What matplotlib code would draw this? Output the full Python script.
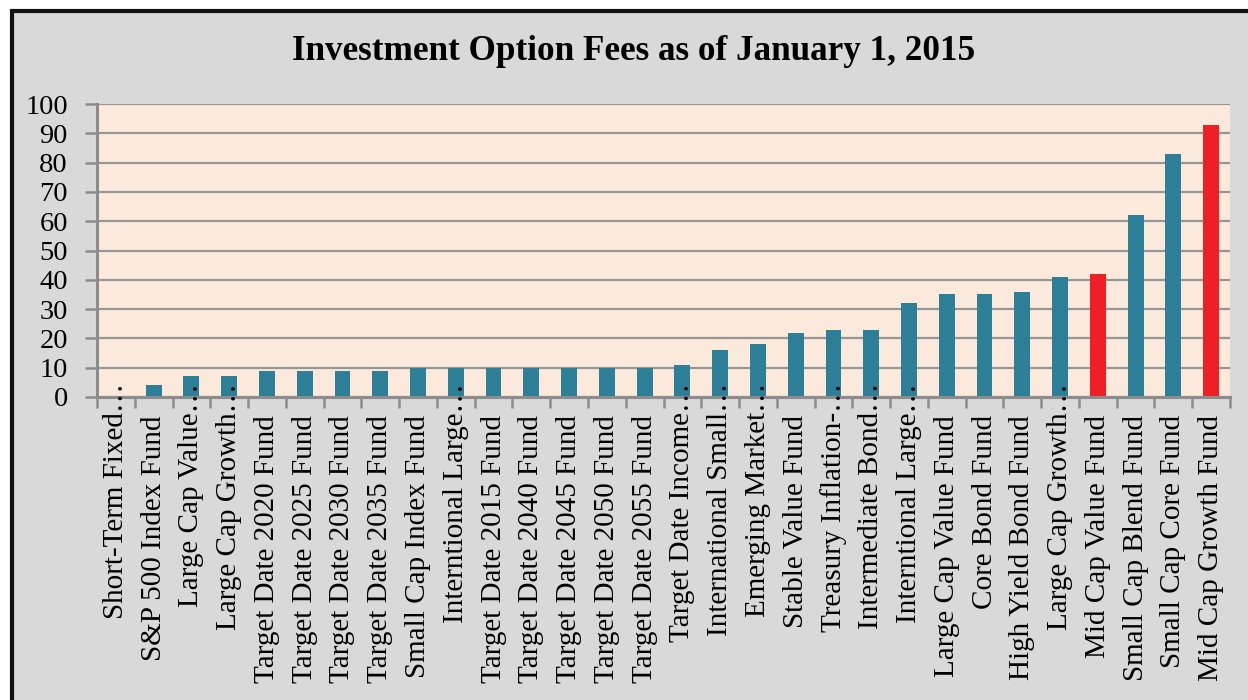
import matplotlib
matplotlib.use("Agg")
import matplotlib.pyplot as plt
from matplotlib.patches import Rectangle

plt.rcParams['font.family'] = ['Liberation Serif', 'DejaVu Serif']

# Fund names as shown on the axis (Excel truncated the long ones)
funds = [
    "Short-Term Fixed…", "S&P 500 Index Fund", "Large Cap Value…",
    "Large Cap Growth…", "Target Date 2020 Fund", "Target Date 2025 Fund",
    "Target Date 2030 Fund", "Target Date 2035 Fund", "Small Cap Index Fund",
    "Interntional Large…", "Target Date 2015 Fund", "Target Date 2040 Fund",
    "Target Date 2045 Fund", "Target Date 2050 Fund", "Target Date 2055 Fund",
    "Target Date Income…", "International Small…", "Emerging Market…",
    "Stable Value Fund", "Treasury Inflation-…", "Intermediate Bond…",
    "Interntional Large…", "Large Cap Value Fund", "Core Bond Fund",
    "High Yield Bond Fund", "Large Cap Growth…", "Mid Cap Value Fund",
    "Small Cap Blend Fund", "Small Cap Core Fund", "Mid Cap Growth Fund",
]
fees = [0, 4, 7, 7, 9, 9, 9, 9, 10, 10, 10, 10, 10, 10, 10,
        11, 16, 18, 22, 23, 23, 32, 35, 35, 36, 41, 42, 62, 83, 93]
highlighted = ["Mid Cap Value Fund", "Mid Cap Growth Fund"]
yticks = list(range(0, 101, 10))

teal = "#2C7F96"
red = "#EE1F25"
grey_bg = "#D9D9D9"

W, H = 1248, 700
fig = plt.figure(figsize=(W / 100, H / 100), dpi=100, facecolor="white")

# chart frame: black border on left/top, runs off the picture right and bottom
frame = Rectangle((11.5 / W, -0.1), 2.0, (H - 11) / H + 0.1,
                  transform=fig.transFigure, facecolor=grey_bg,
                  edgecolor="#111111", linewidth=3.0, zorder=0)
fig.add_artist(frame)

ax = fig.add_axes([97 / W, 1 - 397 / H, (1230 - 97) / W, (397 - 104) / H])
ax.set_facecolor("#FBEADC")
ax.set_zorder(2)

x = list(range(len(funds)))
colors = [red if f in highlighted else teal for f in funds]
ax.bar(x, fees, width=0.42, color=colors, zorder=3)

ax.set_xlim(-0.5, len(funds) - 0.5)
ax.set_ylim(0, 100)
ax.set_yticks(yticks)
ax.yaxis.grid(True, color="#969696", linewidth=1.6, zorder=1)
ax.set_axisbelow(True)

# tick marks sit on category boundaries, labels drawn separately
ax.set_xticks([i - 0.5 for i in range(len(funds) + 1)])
ax.set_xticklabels([])
ax.tick_params(axis="x", length=8, width=1.8, color="#8C8C8C", direction="out")
ax.tick_params(axis="y", length=9, width=1.8, color="#8C8C8C", direction="out",
               pad=12, labelsize=20.5)

for side in ["top", "right"]:
    ax.spines[side].set_visible(False)
for side in ["left", "bottom"]:
    ax.spines[side].set_color("#8C8C8C")
    ax.spines[side].set_linewidth(2.2)
ax.spines["bottom"].set_zorder(4)

for i, name in enumerate(funds):
    # truncated labels overflow upward across the axis like in Excel
    dy = 10 if name.endswith("…") else -13
    ax.annotate(name, xy=(i, 0), xycoords=("data", "axes fraction"),
                xytext=(0, dy), textcoords="offset points",
                rotation=90, ha="center", va="top", fontsize=21,
                annotation_clip=False, zorder=5)

fig.text(634 / W, 1 - 52 / H, "Investment Option Fees as of January 1, 2015",
         ha="center", va="center", fontsize=25.3, fontweight="bold")

fig.savefig("out.png", dpi=100, facecolor=fig.get_facecolor())
